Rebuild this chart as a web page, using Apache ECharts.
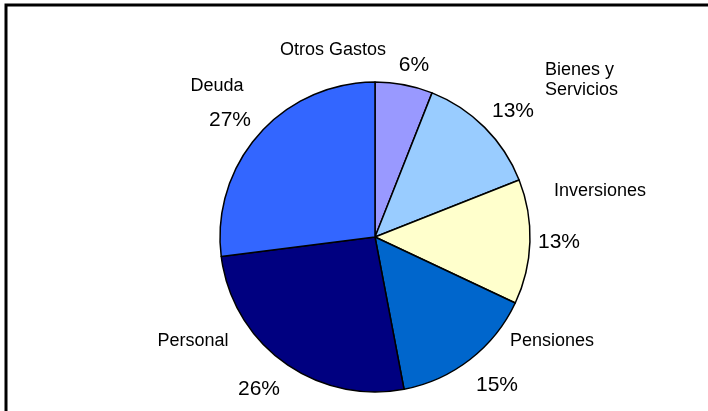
<!DOCTYPE html>
<html>
<head>
<meta charset="utf-8">
<script src="https://cdn.jsdelivr.net/npm/echarts@6/dist/echarts.min.js"></script>
<style>
  html, body { margin: 0; padding: 0; background: #fff; }
  #chart { width: 708px; height: 411px; }
</style>
</head>
<body>
<div id="chart"></div>
<script>
const categories = ["Otros Gastos", "Bienes y\nServicios", "Inversiones", "Pensiones", "Personal", "Deuda"];
const shares = [6, 13, 13, 15, 26, 27];
const sliceColors = ["#9999FF", "#99CCFF", "#FFFFCC", "#0066CC", "#000080", "#3366FF"];

// label anchor points, tuned to the reference
const namePos = [[333, 50], [545, 80], [600, 191], [552, 341], [193, 341], [217, 86]];
const nameAlign = ["center", "left", "center", "center", "center", "center"];
const pctPos = [[414, 65], [513, 111], [559, 242], [497, 385], [259, 389], [230, 120]];

const chart = echarts.init(document.getElementById("chart"));
const font = "Liberation Sans, Arial, sans-serif";

const pieData = categories.map((name, i) => ({
  name,
  value: shares[i],
  itemStyle: { color: sliceColors[i] },
}));

const base = {
  type: "pie",
  center: [375, 237],
  radius: [0, 155],
  startAngle: 90,
  clockwise: true,
  animation: false,
  silent: true,
  labelLine: { show: false },
  data: pieData,
};

chart.setOption({
  backgroundColor: "#fff",
  graphic: [
    {
      type: "rect",
      shape: { x: 6, y: 5, width: 760, height: 460 },
      style: { fill: "none", stroke: "#000", lineWidth: 3 },
    },
  ],
  series: [
    {
      ...base,
      itemStyle: { borderColor: "#000", borderWidth: 1.5 },
      label: {
        show: true,
        formatter: "{b}",
        color: "#000",
        fontSize: 18,
        fontFamily: font,
        lineHeight: 20,
      },
      labelLayout: (p) => ({
        x: namePos[p.dataIndex][0],
        y: namePos[p.dataIndex][1],
        align: nameAlign[p.dataIndex],
        verticalAlign: "middle",
      }),
    },
    {
      ...base,
      z: 3,
      itemStyle: { color: "transparent", borderWidth: 0 },
      data: pieData.map((d) => ({ ...d, itemStyle: { color: "transparent" } })),
      label: {
        show: true,
        formatter: "{c}%",
        color: "#000",
        fontSize: 21,
        fontFamily: font,
      },
      labelLayout: (p) => ({
        x: pctPos[p.dataIndex][0],
        y: pctPos[p.dataIndex][1],
        align: "center",
        verticalAlign: "middle",
      }),
    },
  ],
});
</script>
</body>
</html>
